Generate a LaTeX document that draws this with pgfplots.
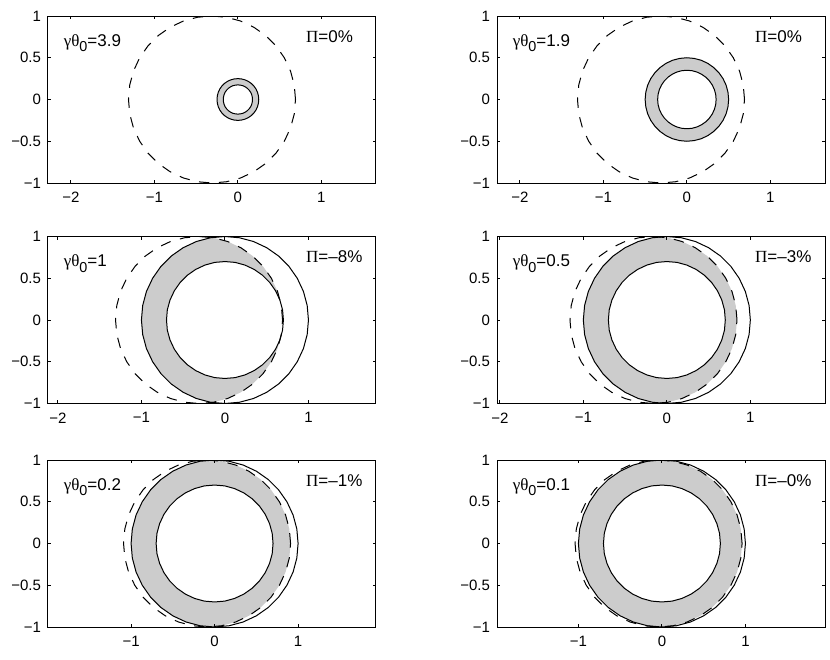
\documentclass[border=0pt]{standalone}
\usepackage{pgfplots}
\usepackage{pgfplotstable}
\pgfplotsset{compat=1.18}
\usepackage{fontspec}
\setmainfont{Liberation Sans}
\newfontfamily\grk{Liberation Serif}

\definecolor{shade}{RGB}{204,204,204}

% circles sampled every 10 degrees
\pgfplotstableread[row sep=\\]{x y\\ 1 0\\ 0.985 0.174\\ 0.940 0.342\\ 0.866 0.500\\ 0.766 0.643\\ 0.643 0.766\\ 0.500 0.866\\ 0.342 0.940\\ 0.174 0.985\\ 0 1\\ -0.174 0.985\\ -0.342 0.940\\ -0.500 0.866\\ -0.643 0.766\\ -0.766 0.643\\ -0.866 0.500\\ -0.940 0.342\\ -0.985 0.174\\ -1 0\\ -0.985 -0.174\\ -0.940 -0.342\\ -0.866 -0.500\\ -0.766 -0.643\\ -0.643 -0.766\\ -0.500 -0.866\\ -0.342 -0.940\\ -0.174 -0.985\\ 0 -1\\ 0.174 -0.985\\ 0.342 -0.940\\ 0.500 -0.866\\ 0.643 -0.766\\ 0.766 -0.643\\ 0.866 -0.500\\ 0.940 -0.342\\ 0.985 -0.174\\ 1 0\\}\rone
\pgfplotstableread[row sep=\\]{x y\\ 0.700 0\\ 0.690 0.122\\ 0.658 0.239\\ 0.606 0.350\\ 0.536 0.450\\ 0.450 0.536\\ 0.350 0.606\\ 0.239 0.658\\ 0.122 0.690\\ 0 0.700\\ -0.122 0.690\\ -0.239 0.658\\ -0.350 0.606\\ -0.450 0.536\\ -0.536 0.450\\ -0.606 0.350\\ -0.658 0.239\\ -0.690 0.122\\ -0.700 0\\ -0.690 -0.122\\ -0.658 -0.239\\ -0.606 -0.350\\ -0.536 -0.450\\ -0.450 -0.536\\ -0.350 -0.606\\ -0.239 -0.658\\ -0.122 -0.690\\ 0 -0.700\\ 0.122 -0.690\\ 0.239 -0.658\\ 0.350 -0.606\\ 0.450 -0.536\\ 0.536 -0.450\\ 0.606 -0.350\\ 0.658 -0.239\\ 0.690 -0.122\\ 0.700 0\\}\rseven
\pgfplotstableread[row sep=\\]{x y\\ 0.500 0\\ 0.492 0.087\\ 0.470 0.171\\ 0.433 0.250\\ 0.383 0.321\\ 0.321 0.383\\ 0.250 0.433\\ 0.171 0.470\\ 0.087 0.492\\ 0 0.500\\ -0.087 0.492\\ -0.171 0.470\\ -0.250 0.433\\ -0.321 0.383\\ -0.383 0.321\\ -0.433 0.250\\ -0.470 0.171\\ -0.492 0.087\\ -0.500 0\\ -0.492 -0.087\\ -0.470 -0.171\\ -0.433 -0.250\\ -0.383 -0.321\\ -0.321 -0.383\\ -0.250 -0.433\\ -0.171 -0.470\\ -0.087 -0.492\\ 0 -0.500\\ 0.087 -0.492\\ 0.171 -0.470\\ 0.250 -0.433\\ 0.321 -0.383\\ 0.383 -0.321\\ 0.433 -0.250\\ 0.470 -0.171\\ 0.492 -0.087\\ 0.500 0\\}\rhalf
\pgfplotstableread[row sep=\\]{x y\\ 0.350 0\\ 0.345 0.061\\ 0.329 0.120\\ 0.303 0.175\\ 0.268 0.225\\ 0.225 0.268\\ 0.175 0.303\\ 0.120 0.329\\ 0.061 0.345\\ 0 0.350\\ -0.061 0.345\\ -0.120 0.329\\ -0.175 0.303\\ -0.225 0.268\\ -0.268 0.225\\ -0.303 0.175\\ -0.329 0.120\\ -0.345 0.061\\ -0.350 0\\ -0.345 -0.061\\ -0.329 -0.120\\ -0.303 -0.175\\ -0.268 -0.225\\ -0.225 -0.268\\ -0.175 -0.303\\ -0.120 -0.329\\ -0.061 -0.345\\ 0 -0.350\\ 0.061 -0.345\\ 0.120 -0.329\\ 0.175 -0.303\\ 0.225 -0.268\\ 0.268 -0.225\\ 0.303 -0.175\\ 0.329 -0.120\\ 0.345 -0.061\\ 0.350 0\\}\rthree
\pgfplotstableread[row sep=\\]{x y\\ 0.250 0\\ 0.246 0.044\\ 0.235 0.086\\ 0.217 0.125\\ 0.192 0.161\\ 0.161 0.192\\ 0.125 0.217\\ 0.086 0.235\\ 0.044 0.246\\ 0 0.250\\ -0.044 0.246\\ -0.086 0.235\\ -0.125 0.217\\ -0.161 0.192\\ -0.192 0.161\\ -0.217 0.125\\ -0.235 0.086\\ -0.246 0.044\\ -0.250 0\\ -0.246 -0.044\\ -0.235 -0.086\\ -0.217 -0.125\\ -0.192 -0.161\\ -0.161 -0.192\\ -0.125 -0.217\\ -0.086 -0.235\\ -0.044 -0.246\\ 0 -0.250\\ 0.044 -0.246\\ 0.086 -0.235\\ 0.125 -0.217\\ 0.161 -0.192\\ 0.192 -0.161\\ 0.217 -0.125\\ 0.235 -0.086\\ 0.246 -0.044\\ 0.250 0\\}\rquart
\pgfplotstableread[row sep=\\]{x y\\ 0.175 0\\ 0.172 0.030\\ 0.165 0.060\\ 0.152 0.088\\ 0.134 0.113\\ 0.113 0.134\\ 0.088 0.152\\ 0.060 0.165\\ 0.030 0.172\\ 0 0.175\\ -0.030 0.172\\ -0.060 0.165\\ -0.088 0.152\\ -0.113 0.134\\ -0.134 0.113\\ -0.152 0.088\\ -0.165 0.060\\ -0.172 0.030\\ -0.175 0\\ -0.172 -0.030\\ -0.165 -0.060\\ -0.152 -0.088\\ -0.134 -0.113\\ -0.113 -0.134\\ -0.088 -0.152\\ -0.060 -0.165\\ -0.030 -0.172\\ 0 -0.175\\ 0.030 -0.172\\ 0.060 -0.165\\ 0.088 -0.152\\ 0.113 -0.134\\ 0.134 -0.113\\ 0.152 -0.088\\ 0.165 -0.060\\ 0.172 -0.030\\ 0.175 0\\}\rsmall

% dashed circles, radius 1, shifted centres
\pgfplotstableread[row sep=\\]{x y\\ 0.690 0\\ 0.675 0.174\\ 0.630 0.342\\ 0.556 0.500\\ 0.456 0.643\\ 0.333 0.766\\ 0.190 0.866\\ 0.032 0.940\\ -0.136 0.985\\ -0.310 1\\ -0.484 0.985\\ -0.652 0.940\\ -0.810 0.866\\ -0.953 0.766\\ -1.076 0.643\\ -1.176 0.500\\ -1.250 0.342\\ -1.295 0.174\\ -1.310 0\\ -1.295 -0.174\\ -1.250 -0.342\\ -1.176 -0.500\\ -1.076 -0.643\\ -0.953 -0.766\\ -0.810 -0.866\\ -0.652 -0.940\\ -0.484 -0.985\\ -0.310 -1\\ -0.136 -0.985\\ 0.032 -0.940\\ 0.190 -0.866\\ 0.333 -0.766\\ 0.456 -0.643\\ 0.556 -0.500\\ 0.630 -0.342\\ 0.675 -0.174\\ 0.690 0\\}\dA
\pgfplotstableread[row sep=\\]{x y\\ 0.840 0\\ 0.825 0.174\\ 0.780 0.342\\ 0.706 0.500\\ 0.606 0.643\\ 0.483 0.766\\ 0.340 0.866\\ 0.182 0.940\\ 0.014 0.985\\ -0.160 1\\ -0.334 0.985\\ -0.502 0.940\\ -0.660 0.866\\ -0.803 0.766\\ -0.926 0.643\\ -1.026 0.500\\ -1.100 0.342\\ -1.145 0.174\\ -1.160 0\\ -1.145 -0.174\\ -1.100 -0.342\\ -1.026 -0.500\\ -0.926 -0.643\\ -0.803 -0.766\\ -0.660 -0.866\\ -0.502 -0.940\\ -0.334 -0.985\\ -0.160 -1\\ 0.014 -0.985\\ 0.182 -0.940\\ 0.340 -0.866\\ 0.483 -0.766\\ 0.606 -0.643\\ 0.706 -0.500\\ 0.780 -0.342\\ 0.825 -0.174\\ 0.840 0\\}\dB
\pgfplotstableread[row sep=\\]{x y\\ 0.910 0\\ 0.895 0.174\\ 0.850 0.342\\ 0.776 0.500\\ 0.676 0.643\\ 0.553 0.766\\ 0.410 0.866\\ 0.252 0.940\\ 0.084 0.985\\ -0.090 1\\ -0.264 0.985\\ -0.432 0.940\\ -0.590 0.866\\ -0.733 0.766\\ -0.856 0.643\\ -0.956 0.500\\ -1.030 0.342\\ -1.075 0.174\\ -1.090 0\\ -1.075 -0.174\\ -1.030 -0.342\\ -0.956 -0.500\\ -0.856 -0.643\\ -0.733 -0.766\\ -0.590 -0.866\\ -0.432 -0.940\\ -0.264 -0.985\\ -0.090 -1\\ 0.084 -0.985\\ 0.252 -0.940\\ 0.410 -0.866\\ 0.553 -0.766\\ 0.676 -0.643\\ 0.776 -0.500\\ 0.850 -0.342\\ 0.895 -0.174\\ 0.910 0\\}\dC
\pgfplotstableread[row sep=\\]{x y\\ 0.960 0\\ 0.945 0.174\\ 0.900 0.342\\ 0.826 0.500\\ 0.726 0.643\\ 0.603 0.766\\ 0.460 0.866\\ 0.302 0.940\\ 0.134 0.985\\ -0.040 1\\ -0.214 0.985\\ -0.382 0.940\\ -0.540 0.866\\ -0.683 0.766\\ -0.806 0.643\\ -0.906 0.500\\ -0.980 0.342\\ -1.025 0.174\\ -1.040 0\\ -1.025 -0.174\\ -0.980 -0.342\\ -0.906 -0.500\\ -0.806 -0.643\\ -0.683 -0.766\\ -0.540 -0.866\\ -0.382 -0.940\\ -0.214 -0.985\\ -0.040 -1\\ 0.134 -0.985\\ 0.302 -0.940\\ 0.460 -0.866\\ 0.603 -0.766\\ 0.726 -0.643\\ 0.826 -0.500\\ 0.900 -0.342\\ 0.945 -0.174\\ 0.960 0\\}\dD

% shaded lens: unit disk cut by the dashed disk
\pgfplotstableread[row sep=\\]{x y\\ -0.155 0.988\\ -0.174 0.985\\ -0.342 0.940\\ -0.500 0.866\\ -0.643 0.766\\ -0.766 0.643\\ -0.866 0.500\\ -0.940 0.342\\ -0.985 0.174\\ -1 0\\ -0.985 -0.174\\ -0.940 -0.342\\ -0.866 -0.500\\ -0.766 -0.643\\ -0.643 -0.766\\ -0.500 -0.866\\ -0.342 -0.940\\ -0.174 -0.985\\ -0.155 -0.988\\ -0.136 -0.985\\ 0.032 -0.940\\ 0.190 -0.866\\ 0.333 -0.766\\ 0.456 -0.643\\ 0.556 -0.500\\ 0.630 -0.342\\ 0.675 -0.174\\ 0.690 0\\ 0.675 0.174\\ 0.630 0.342\\ 0.556 0.500\\ 0.456 0.643\\ 0.333 0.766\\ 0.190 0.866\\ 0.032 0.940\\ -0.136 0.985\\ -0.155 0.988\\}\lA
\pgfplotstableread[row sep=\\]{x y\\ -0.080 0.997\\ -0.174 0.985\\ -0.342 0.940\\ -0.500 0.866\\ -0.643 0.766\\ -0.766 0.643\\ -0.866 0.500\\ -0.940 0.342\\ -0.985 0.174\\ -1 0\\ -0.985 -0.174\\ -0.940 -0.342\\ -0.866 -0.500\\ -0.766 -0.643\\ -0.643 -0.766\\ -0.500 -0.866\\ -0.342 -0.940\\ -0.174 -0.985\\ -0.080 -0.997\\ 0.014 -0.985\\ 0.182 -0.940\\ 0.340 -0.866\\ 0.483 -0.766\\ 0.606 -0.643\\ 0.706 -0.500\\ 0.780 -0.342\\ 0.825 -0.174\\ 0.840 0\\ 0.825 0.174\\ 0.780 0.342\\ 0.706 0.500\\ 0.606 0.643\\ 0.483 0.766\\ 0.340 0.866\\ 0.182 0.940\\ 0.014 0.985\\ -0.080 0.997\\}\lB
\pgfplotstableread[row sep=\\]{x y\\ -0.045 0.999\\ -0.174 0.985\\ -0.342 0.940\\ -0.500 0.866\\ -0.643 0.766\\ -0.766 0.643\\ -0.866 0.500\\ -0.940 0.342\\ -0.985 0.174\\ -1 0\\ -0.985 -0.174\\ -0.940 -0.342\\ -0.866 -0.500\\ -0.766 -0.643\\ -0.643 -0.766\\ -0.500 -0.866\\ -0.342 -0.940\\ -0.174 -0.985\\ -0.045 -0.999\\ 0.084 -0.985\\ 0.252 -0.940\\ 0.410 -0.866\\ 0.553 -0.766\\ 0.676 -0.643\\ 0.776 -0.500\\ 0.850 -0.342\\ 0.895 -0.174\\ 0.910 0\\ 0.895 0.174\\ 0.850 0.342\\ 0.776 0.500\\ 0.676 0.643\\ 0.553 0.766\\ 0.410 0.866\\ 0.252 0.940\\ 0.084 0.985\\ -0.045 0.999\\}\lC
\pgfplotstableread[row sep=\\]{x y\\ -0.020 1\\ -0.174 0.985\\ -0.342 0.940\\ -0.500 0.866\\ -0.643 0.766\\ -0.766 0.643\\ -0.866 0.500\\ -0.940 0.342\\ -0.985 0.174\\ -1 0\\ -0.985 -0.174\\ -0.940 -0.342\\ -0.866 -0.500\\ -0.766 -0.643\\ -0.643 -0.766\\ -0.500 -0.866\\ -0.342 -0.940\\ -0.174 -0.985\\ -0.020 -1\\ 0.134 -0.985\\ 0.302 -0.940\\ 0.460 -0.866\\ 0.603 -0.766\\ 0.726 -0.643\\ 0.826 -0.500\\ 0.900 -0.342\\ 0.945 -0.174\\ 0.960 0\\ 0.945 0.174\\ 0.900 0.342\\ 0.826 0.500\\ 0.726 0.643\\ 0.603 0.766\\ 0.460 0.866\\ 0.302 0.940\\ 0.134 0.985\\ -0.020 1\\}\lD

\newcommand{\lab}{\fontsize{8.5}{10}\selectfont}
\newcommand{\gam}[1]{{\grk γθ}\raisebox{-2.8pt}{\fontsize{7.2}{8}\selectfont 0}=#1}

\pgfplotsset{
  panel/.style={
    scale only axis, width=164pt, height=83.5pt,
    anchor=north west,
    ymin=-1, ymax=1,
    ytick={-1,-0.5,0,0.5,1},
    yticklabels={−1,−0.5,0,0.5,1},
    xtick={-2,-1,0,1},
    xticklabels={−2,−1,0,1},
    tick align=inside,
    major tick length=1.6pt,
    axis on top,
    axis line style={line width=0.5pt},
    every tick/.style={black, line width=0.5pt},
    tick label style={font=\fontsize{7.5}{9}\selectfont},
    xticklabel style={yshift=-1pt},
  },
  gray fill/.style={draw=none, fill=shade},
  white fill/.style={draw=none, fill=white},
  solid line/.style={black, line width=0.5pt},
  dash line/.style={black, line width=0.5pt, dash pattern=on 5.2pt off 4.8pt},
}

\begin{document}
\begin{tikzpicture}
\useasboundingbox (0,0) rectangle (415pt,-329.5pt);

% row 1, left
\begin{axis}[panel, at={(24pt,-8pt)}, xmin=-2.274, xmax=1.654]
  \addplot[gray fill] table {\rquart} -- cycle;
  \addplot[white fill] table {\rsmall} -- cycle;
  \addplot[dash line] table {\dA};
  \addplot[solid line] table {\rquart};
  \addplot[solid line] table {\rsmall};
  \node[anchor=base west, inner sep=0pt, font=\lab] at (rel axis cs:0.047,0.82) {\gam{3.9}};
  \node[anchor=base west, inner sep=0pt, font=\lab] at (rel axis cs:0.786,0.843) {{\grk Π}=0\%};
\end{axis}

% row 1, right
\begin{axis}[panel, at={(248.5pt,-8pt)}, xmin=-2.274, xmax=1.654]
  \addplot[gray fill] table {\rhalf} -- cycle;
  \addplot[white fill] table {\rthree} -- cycle;
  \addplot[dash line] table {\dA};
  \addplot[solid line] table {\rhalf};
  \addplot[solid line] table {\rthree};
  \node[anchor=base west, inner sep=0pt, font=\lab] at (rel axis cs:0.047,0.82) {\gam{1.9}};
  \node[anchor=base west, inner sep=0pt, font=\lab] at (rel axis cs:0.786,0.843) {{\grk Π}=0\%};
\end{axis}

% row 2, left
\begin{axis}[panel, at={(24pt,-118.25pt)}, xmin=-2.119, xmax=1.809]
  \addplot[gray fill] table {\lA} -- cycle;
  \addplot[white fill] table {\rseven} -- cycle;
  \addplot[dash line] table {\dA};
  \addplot[solid line] table {\rone};
  \addplot[solid line] table {\rseven};
  \node[anchor=base west, inner sep=0pt, font=\lab] at (rel axis cs:0.047,0.82) {\gam{1}};
  \node[anchor=base west, inner sep=0pt, font=\lab] at (rel axis cs:0.786,0.843) {{\grk Π}=–8\%};
\end{axis}

% row 2, right
\begin{axis}[panel, at={(248.5pt,-118.25pt)}, xmin=-2.034, xmax=1.894]
  \addplot[gray fill] table {\lB} -- cycle;
  \addplot[white fill] table {\rseven} -- cycle;
  \addplot[dash line] table {\dB};
  \addplot[solid line] table {\rone};
  \addplot[solid line] table {\rseven};
  \node[anchor=base west, inner sep=0pt, font=\lab] at (rel axis cs:0.047,0.82) {\gam{0.5}};
  \node[anchor=base west, inner sep=0pt, font=\lab] at (rel axis cs:0.786,0.843) {{\grk Π}=–3\%};
\end{axis}

% row 3, left
\begin{axis}[panel, at={(24pt,-230pt)}, xmin=-1.995, xmax=1.933,
  xtick={-1,0,1}, xticklabels={−1,0,1}]
  \addplot[gray fill] table {\lC} -- cycle;
  \addplot[white fill] table {\rseven} -- cycle;
  \addplot[dash line] table {\dC};
  \addplot[solid line] table {\rone};
  \addplot[solid line] table {\rseven};
  \node[anchor=base west, inner sep=0pt, font=\lab] at (rel axis cs:0.047,0.82) {\gam{0.2}};
  \node[anchor=base west, inner sep=0pt, font=\lab] at (rel axis cs:0.786,0.843) {{\grk Π}=–1\%};
\end{axis}

% row 3, right
\begin{axis}[panel, at={(248.5pt,-230pt)}, xmin=-1.975, xmax=1.953,
  xtick={-1,0,1}, xticklabels={−1,0,1}]
  \addplot[gray fill] table {\lD} -- cycle;
  \addplot[white fill] table {\rseven} -- cycle;
  \addplot[dash line] table {\dD};
  \addplot[solid line] table {\rone};
  \addplot[solid line] table {\rseven};
  \node[anchor=base west, inner sep=0pt, font=\lab] at (rel axis cs:0.047,0.82) {\gam{0.1}};
  \node[anchor=base west, inner sep=0pt, font=\lab] at (rel axis cs:0.786,0.843) {{\grk Π}=–0\%};
\end{axis}
\end{tikzpicture}
\end{document}
